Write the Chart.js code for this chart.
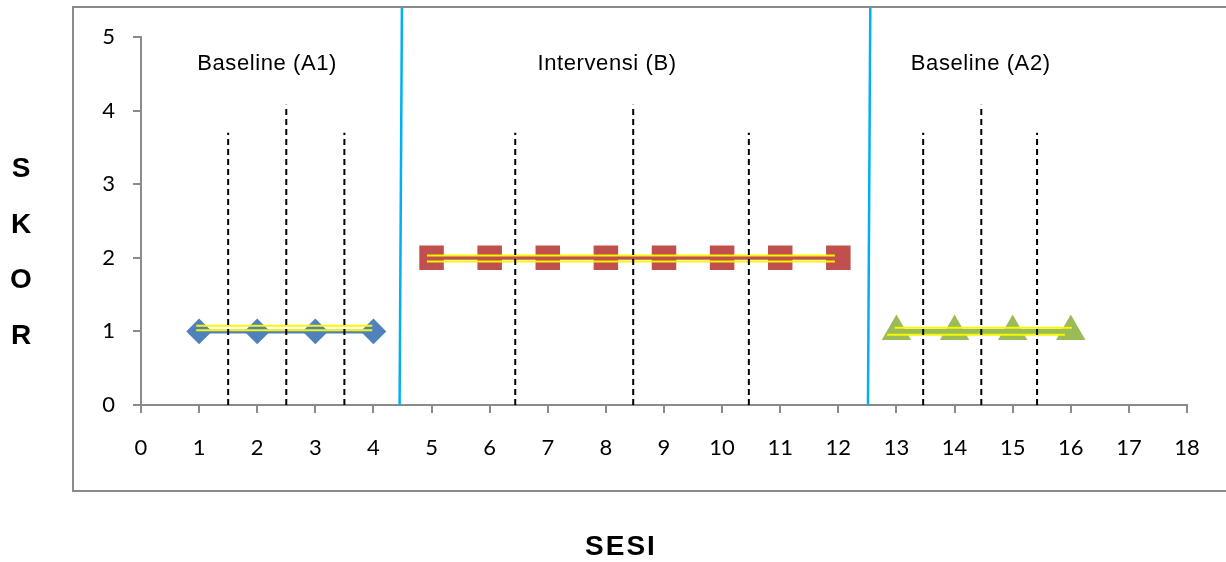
<!DOCTYPE html>
<html>
<head>
<meta charset="utf-8">
<script src="https://cdn.jsdelivr.net/npm/chart.js@4"></script>
<style>
  html, body { margin: 0; padding: 0; background: #fff; overflow: hidden; }
  #wrap { position: relative; width: 1226px; height: 562px; }
  #frame { position: absolute; left: 72px; top: 6px; width: 1200px; height: 482px; border: 2px solid #8a8a8a; }
  #chart { position: absolute; left: 0; top: 0; }
  .judul { position: absolute; font-family: "Liberation Sans", Arial, sans-serif; font-weight: bold; font-size: 28px; color: #000; }
  #skor { left: 7px; top: 140px; width: 28px; text-align: center; line-height: 55.7px; }
  #sesi { left: 521px; top: 530px; width: 200px; text-align: center; letter-spacing: 2px; line-height: 32px; }
</style>
</head>
<body>
<div id="wrap">
  <div id="frame"></div>
  <canvas id="chart" width="1226" height="562"></canvas>
  <div id="skor" class="judul">S<br>K<br>O<br>R</div>
  <div id="sesi" class="judul">SESI</div>
</div>
<script>
// Data per fase
const sesiA1 = [1, 2, 3, 4];
const skorA1 = [1, 1, 1, 1];
const sesiB = [5, 6, 7, 8, 9, 10, 11, 12];
const skorB = [2, 2, 2, 2, 2, 2, 2, 2];
const sesiA2 = [13, 14, 15, 16];
const skorA2 = [1, 1, 1, 1];

// Garis trend (garis ganda kuning)
const trendA1X = [0.95, 3.98];
const trendA1Atas = [1.077, 1.077];
const trendA1Bawah = [1.015, 1.015];
const trendBX = [4.92, 11.94];
const trendBAtas = [2.03, 2.03];
const trendBBawah = [1.95, 1.95];
const trendA2AtasX = [12.97, 16.02];
const trendA2Atas = [1.05, 1.05];
const trendA2BawahX = [12.84, 15.9];
const trendA2Bawah = [0.955, 0.955];

// Garis batas fase (biru)
const batasBawahX = [4.45, 12.51];
const batasAtasX = [4.49, 12.55];
const batasAtasY = 5.4;

// Garis putus-putus
const putusX = [1.5, 2.5, 3.5, 6.44, 8.47, 10.46, 13.46, 14.46, 15.42];
const putusTop = [3.7, 4.08, 3.7, 3.7, 4.08, 3.7, 3.7, 4.08, 3.7];

// Label fase
const labelFase = ['Baseline (A1)', 'Intervensi (B)', 'Baseline (A2)'];
const labelFaseX = [2.17, 8.02, 14.45];
const labelFaseY = 4.64;

const xTicks = [0, 18];
const yTicks = [0, 5];

function titik(xs, ys) {
    return xs.map((x, i) => ({ x: x, y: ys[i] }));
}

function garisTrend(xs, ys) {
    return {
        data: titik(xs, ys),
        borderColor: '#f7f700',
        borderWidth: 2,
        pointRadius: 0,
        order: 2
    };
}

const datasets = [
    {
        data: titik(sesiA1, skorA1),
        borderColor: '#4f81bd', backgroundColor: '#4f81bd',
        borderWidth: 4, pointStyle: 'rectRot', pointRadius: 10, order: 3
    },
    {
        data: titik(sesiB, skorB),
        borderColor: '#c0504d', backgroundColor: '#c0504d',
        borderWidth: 4, pointStyle: 'rect', pointRadius: 14.5, order: 3
    },
    {
        data: titik(sesiA2, skorA2),
        borderColor: '#9bbb59', backgroundColor: '#9bbb59',
        borderWidth: 5, pointStyle: 'triangle', pointRadius: 12, order: 3
    },
    garisTrend(trendA1X, trendA1Atas),
    garisTrend(trendA1X, trendA1Bawah),
    garisTrend(trendBX, trendBAtas),
    garisTrend(trendBX, trendBBawah),
    garisTrend(trendA2AtasX, trendA2Atas),
    garisTrend(trendA2BawahX, trendA2Bawah)
];

batasBawahX.forEach((x, i) => {
    datasets.push({
        data: [{ x: x, y: 0 }, { x: batasAtasX[i], y: batasAtasY }],
        borderColor: '#00b0f0', borderWidth: 2.5,
        pointRadius: 0, clip: false, order: 1
    });
});

putusX.forEach((x, i) => {
    datasets.push({
        data: [{ x: x, y: 0 }, { x: x, y: putusTop[i] }],
        borderColor: '#000', borderWidth: 2, borderDash: [6, 4],
        pointRadius: 0, order: 1
    });
});

// Plugin untuk label fase
const labelPlugin = {
    id: 'labelFase',
    afterDatasetsDraw(chart) {
        const ctx = chart.ctx;
        const xs = chart.scales.x, ys = chart.scales.y;
        ctx.save();
        ctx.font = '22px "Liberation Sans", Arial, sans-serif';
        ctx.letterSpacing = '0.6px';
        ctx.fillStyle = '#000';
        ctx.textAlign = 'center';
        ctx.textBaseline = 'middle';
        labelFase.forEach((t, i) => {
            ctx.fillText(t, xs.getPixelForValue(labelFaseX[i]), ys.getPixelForValue(labelFaseY));
        });
        ctx.restore();
    }
};

const ctx = document.getElementById('chart').getContext('2d');
new Chart(ctx, {
    type: 'line',
    data: { datasets: datasets },
    plugins: [labelPlugin],
    options: {
        responsive: false,
        animation: false,
        layout: { padding: { left: 0, top: 37, right: 39, bottom: 0 } },
        plugins: { legend: { display: false }, tooltip: { enabled: false } },
        scales: {
            x: {
                type: 'linear',
                min: xTicks[0], max: xTicks[1],
                ticks: { stepSize: 1, color: '#000', padding: 22, font: { family: 'Lato', size: 22 } },
                grid: { drawOnChartArea: false, drawTicks: true, tickLength: 8, color: '#8a8a8a', lineWidth: 2 },
                border: { color: '#8a8a8a', width: 2 },
                afterFit(scale) { scale.height = 157; }
            },
            y: {
                min: yTicks[0], max: yTicks[1],
                ticks: { stepSize: 1, color: '#000', padding: 18, font: { family: 'Lato', size: 22 } },
                grid: { drawOnChartArea: false, drawTicks: true, tickLength: 8, color: '#8a8a8a', lineWidth: 2 },
                border: { color: '#8a8a8a', width: 2 },
                afterFit(scale) { scale.width = 141; }
            }
        }
    }
});
</script>
</body>
</html>
